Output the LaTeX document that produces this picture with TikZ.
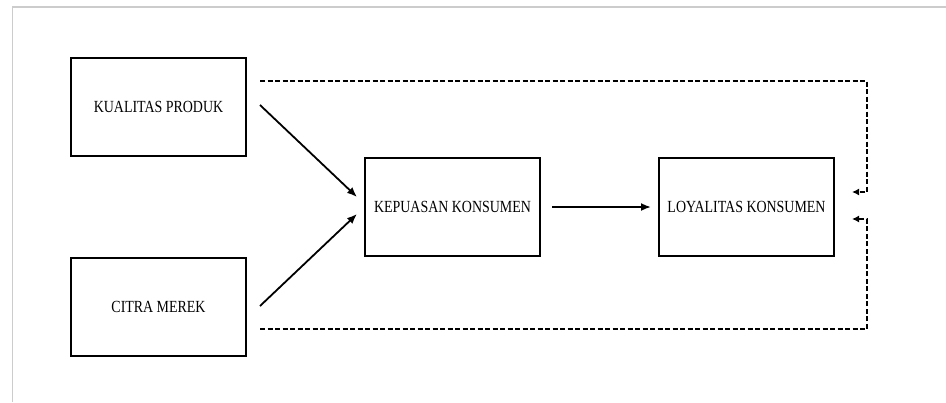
\documentclass[tikz,border=0pt]{standalone}
\usepackage{fontspec}
\setmainfont{Liberation Serif}
\newfontfamily\kerangkafont[FakeStretch=0.82]{Liberation Serif}
\usepackage{tikz}
\usetikzlibrary{positioning, calc, arrows.meta}
\tikzset{kotak/.style={rectangle,draw,line width=2.2pt,minimum width=175pt,minimum height=98pt,inner sep=0,outer sep=0,font=\kerangkafont\fontsize{17}{20}\selectfont},
	panah/.style={line width=1.8pt,-{Latex[length=10pt,width=8pt]}},
	putus/.style={line width=1.6pt,dash pattern=on 5pt off 2.5pt,-{Latex[length=7pt,width=7pt]}},
	bingkai/.style={draw=black!20,line width=1.5pt} }

\begin{document}
\begin{tikzpicture}[x=1pt,y=1pt]
	\useasboundingbox (0,0) rectangle (946,-402);
	\draw[bingkai] (12.5,-402) |- (946,-7);

	\node (kp) [kotak] at (158.5,-107) {KUALITAS PRODUK};
	\node (cm) [kotak] at (158.5,-307) {CITRA MEREK};
	\node (kk) [kotak] at (452.5,-207) {KEPUASAN KONSUMEN};
	\node (lk) [kotak] at (746.5,-207) {LOYALITAS KONSUMEN};

	\draw[panah] ($(kp.east)+(14,2)$) -- ($(kk.west)+(-8,10)$);
	\draw[panah] ($(cm.east)+(14,1)$) -- ($(kk.west)+(-8,-7)$);
	\draw[panah] ($(kk.east)+(12,0)$) -- ($(lk.west)+(-8,0)$);

	% garis putus-putus kembali ke loyalitas
	\draw[putus] ($(kp.east)+(14,26)$) -| ($(lk.east)+(33,15)$) -- ($(lk.east)+(18,15)$);
	\draw[putus] ($(cm.east)+(14,-22)$) -| ($(lk.east)+(33,-12)$) -- ($(lk.east)+(18,-12)$);
\end{tikzpicture}
\end{document}
